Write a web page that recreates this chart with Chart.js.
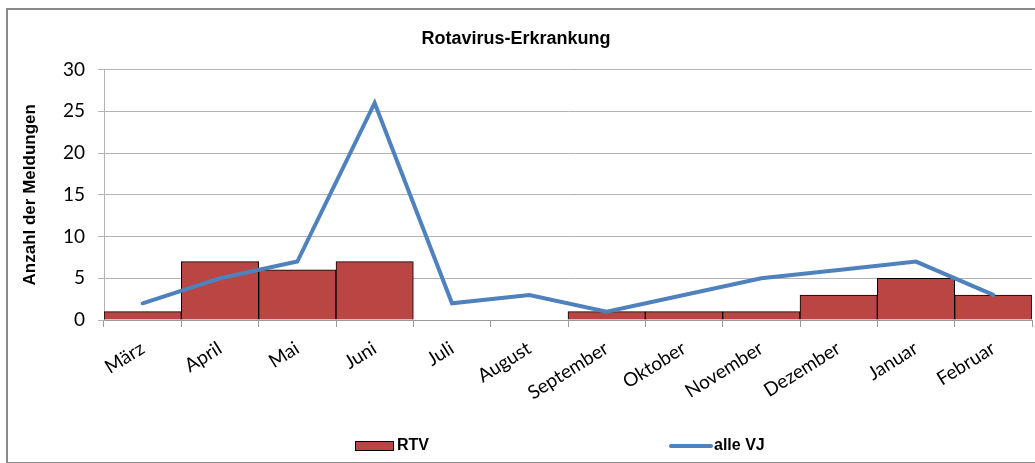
<!DOCTYPE html>
<html>
<head>
<meta charset="utf-8">
<script src="https://cdn.jsdelivr.net/npm/chart.js@4"></script>
<style>
  html, body { margin: 0; padding: 0; background: #fff; }
  #frame { position: absolute; left: 6px; top: 8px; width: 1100px; height: 452px; border: 2px solid #8a8a8a; border-right: none; }
  #wrap { position: absolute; left: 0; top: 0; width: 1035px; height: 463px; }
</style>
</head>
<body>
<div id="frame"></div>
<div id="wrap"><canvas id="rota" width="1035" height="463"></canvas></div>
<script>
(function () {
  'use strict';

  // --- Data ---
  var months = ['März', 'April', 'Mai', 'Juni', 'Juli', 'August', 'September', 'Oktober', 'November', 'Dezember', 'Januar', 'Februar'];
  var rtv = [1, 7, 6, 7, 0, 0, 1, 1, 1, 3, 5, 3];
  var alleVJ = [2, 5, 7, 26, 2, 3, 1, 3, 5, 6, 7, 3];
  var yTicks = [0, 5, 10, 15, 20, 25, 30];

  // --- Colors ---
  var barRed = '#b94642';
  var lineBlue = '#4f81bd';
  var gridGray = '#b3b3b3';
  var tickFont = "Lato, 'Open Sans', sans-serif";
  var boldFont = "'Liberation Sans', Arial, sans-serif";

  // Legend drawn in Excel style: two wide columns under the plot
  var excelLegend = {
    id: 'excelLegend',
    afterDraw: function (chart) {
      var ctx = chart.ctx;
      var y = 446;
      ctx.save();
      ctx.font = 'bold 16px ' + boldFont;
      ctx.textBaseline = 'middle';

      // RTV
      ctx.fillStyle = barRed;
      ctx.fillRect(355, y - 5, 38, 9);
      ctx.strokeStyle = '#000';
      ctx.lineWidth = 1;
      ctx.strokeRect(355.5, y - 4.5, 38, 9);
      ctx.fillStyle = '#000';
      ctx.fillText(chart.data.datasets[0].label, 397, y);

      // alle VJ
      ctx.strokeStyle = lineBlue;
      ctx.lineWidth = 4;
      ctx.lineCap = 'round';
      ctx.beginPath();
      ctx.moveTo(671, y);
      ctx.lineTo(711, y);
      ctx.stroke();
      ctx.fillText(chart.data.datasets[1].label, 714, y);
      ctx.restore();
    }
  };

  new Chart(document.getElementById('rota').getContext('2d'), {
    data: {
      labels: months,
      datasets: [
        {
          type: 'bar',
          label: 'RTV',
          data: rtv,
          backgroundColor: barRed,
          borderColor: '#000',
          borderWidth: 1,
          barPercentage: 1,
          categoryPercentage: 1,
          order: 1
        },
        {
          type: 'line',
          label: 'alle VJ',
          data: alleVJ,
          borderColor: lineBlue,
          borderWidth: 4,
          pointRadius: 0,
          tension: 0,
          borderCapStyle: 'round',
          order: 0
        }
      ]
    },
    options: {
      responsive: false,
      animation: false,
      layout: { padding: { left: 0, top: 0, right: 3, bottom: 0 } },
      scales: {
        x: {
          offset: true,
          grid: {
            offset: true,
            drawOnChartArea: false,
            drawTicks: true,
            tickLength: 7,
            tickColor: '#9a9a9a'
          },
          border: { color: '#9a9a9a' },
          ticks: {
            color: '#000',
            font: { family: tickFont, size: 19 },
            maxRotation: 32,
            minRotation: 32,
            autoSkip: false,
            padding: 10
          },
          afterFit: function (scale) { scale.height = 143; }
        },
        y: {
          min: 0,
          max: 30,
          afterBuildTicks: function (scale) {
            scale.ticks = yTicks.map(function (v) { return { value: v }; });
          },
          grid: {
            color: gridGray,
            tickLength: 6,
            tickColor: gridGray
          },
          border: { color: gridGray },
          ticks: {
            color: '#000',
            font: { family: tickFont, size: 19 },
            padding: 13
          },
          title: {
            display: true,
            text: 'Anzahl der Meldungen',
            color: '#000',
            font: { family: boldFont, size: 17, weight: 'bold' },
            padding: { top: 20, bottom: 0 }
          },
          afterFit: function (scale) { scale.width = 104; }
        }
      },
      plugins: {
        legend: { display: false },
        tooltip: { enabled: false },
        title: {
          display: true,
          text: 'Rotavirus-Erkrankung',
          color: '#000',
          font: { family: boldFont, size: 18, weight: 'bold' },
          padding: { top: 28, bottom: 20 }
        }
      }
    },
    plugins: [excelLegend]
  });
})();
</script>
</body>
</html>
